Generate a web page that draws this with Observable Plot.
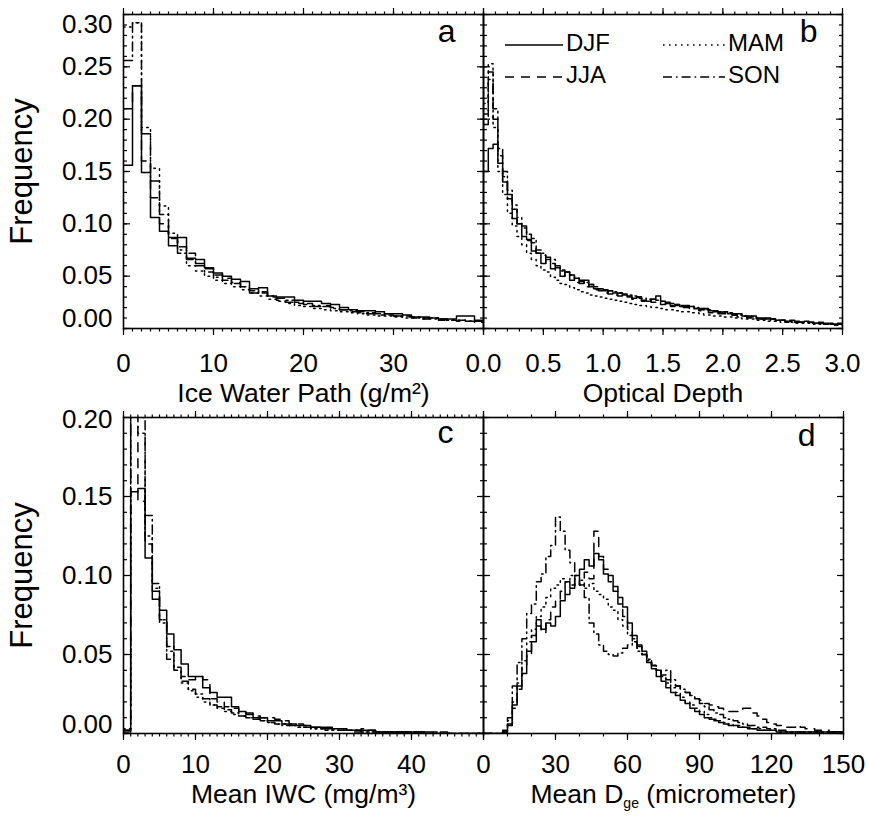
<!DOCTYPE html>
<html>
<head>
<meta charset="utf-8">
<script src="https://cdn.jsdelivr.net/npm/d3@7"></script>
<script src="https://cdn.jsdelivr.net/npm/@observablehq/plot@0.6"></script>
<style>
html, body { margin: 0; padding: 0; background: #fff; }
#chart { position: relative; width: 869px; height: 816px; overflow: hidden; background: #fff; }
#chart svg { position: absolute; left: 0; top: 0; }
</style>
</head>
<body>
<div id="chart"></div>
<script>
// ---------------- data ----------------
const seasons = ["DJF", "JJA", "MAM", "SON"];

// (a) Ice Water Path, bins of 1 g/m2 from 0 to 40
const iwpBin = 1;
const iwpDJF = [0.156,0.232,0.149,0.106,0.093,0.079,0.087,0.067,0.066,0.058,0.053,0.050,0.047,0.045,0.034,0.039,0.031,0.030,0.030,0.027,0.026,0.026,0.024,0.023,0.020,0.018,0.017,0.017,0.016,0.014,0.014,0.013,0.011,0.011,0.010,0.009,0.009,0.012,0.012,0.008];
const iwpJJA = [0.210,0.232,0.160,0.125,0.100,0.086,0.078,0.072,0.062,0.057,0.051,0.048,0.044,0.040,0.038,0.035,0.030,0.027,0.025,0.024,0.023,0.021,0.022,0.020,0.018,0.016,0.015,0.014,0.013,0.014,0.012,0.011,0.010,0.009,0.010,0.008,0.008,0.007,0.007,0.006];
const iwpMAM = [0.288,0.292,0.192,0.153,0.117,0.091,0.075,0.060,0.055,0.050,0.046,0.043,0.040,0.037,0.034,0.031,0.028,0.026,0.024,0.022,0.021,0.019,0.018,0.017,0.016,0.015,0.014,0.013,0.012,0.012,0.011,0.010,0.010,0.009,0.009,0.008,0.008,0.008,0.007,0.007];
const iwpSON = [0.256,0.292,0.186,0.141,0.109,0.087,0.072,0.066,0.060,0.054,0.049,0.046,0.043,0.040,0.036,0.034,0.031,0.029,0.027,0.025,0.024,0.022,0.021,0.019,0.018,0.017,0.016,0.015,0.014,0.013,0.012,0.012,0.011,0.010,0.010,0.009,0.008,0.008,0.007,0.007];

// (b) Optical depth, bins of 0.04 from 0 to 3
const tauBin = 0.04;
const tauDJF = [0.150,0.172,0.176,0.158,0.140,0.128,0.105,0.100,0.088,0.085,0.074,0.072,0.062,0.066,0.057,0.058,0.050,0.054,0.046,0.048,0.043,0.046,0.040,0.038,0.036,0.036,0.033,0.034,0.031,0.032,0.030,0.029,0.030,0.027,0.026,0.028,0.031,0.026,0.024,0.022,0.023,0.021,0.020,0.021,0.019,0.018,0.019,0.017,0.016,0.015,0.016,0.014,0.013,0.014,0.012,0.011,0.012,0.010,0.009,0.010,0.009,0.008,0.008,0.007,0.008,0.007,0.006,0.007,0.006,0.005,0.006,0.005,0.005,0.004,0.005];
const tauJJA = [0.205,0.238,0.200,0.165,0.145,0.124,0.114,0.100,0.096,0.084,0.082,0.072,0.070,0.062,0.062,0.056,0.056,0.049,0.051,0.044,0.045,0.040,0.042,0.037,0.038,0.034,0.036,0.032,0.034,0.031,0.031,0.028,0.029,0.026,0.028,0.025,0.026,0.023,0.024,0.021,0.022,0.020,0.021,0.018,0.019,0.017,0.018,0.015,0.016,0.014,0.014,0.013,0.013,0.011,0.012,0.010,0.011,0.009,0.009,0.008,0.009,0.007,0.008,0.006,0.007,0.006,0.006,0.005,0.006,0.004,0.005,0.004,0.004,0.003,0.004];
const tauMAM = [0.215,0.253,0.192,0.150,0.128,0.110,0.098,0.088,0.080,0.072,0.066,0.060,0.056,0.054,0.049,0.046,0.043,0.042,0.039,0.037,0.035,0.034,0.032,0.031,0.030,0.029,0.028,0.027,0.026,0.025,0.024,0.023,0.022,0.022,0.021,0.020,0.020,0.019,0.018,0.018,0.017,0.016,0.016,0.015,0.015,0.014,0.013,0.013,0.012,0.012,0.011,0.011,0.010,0.010,0.009,0.009,0.009,0.008,0.008,0.007,0.007,0.007,0.006,0.006,0.006,0.005,0.005,0.005,0.005,0.004,0.004,0.004,0.004,0.003,0.003];
const tauSON = [0.195,0.245,0.210,0.172,0.150,0.132,0.118,0.106,0.098,0.090,0.086,0.075,0.072,0.068,0.066,0.060,0.055,0.054,0.051,0.048,0.046,0.044,0.042,0.040,0.038,0.037,0.036,0.035,0.034,0.033,0.032,0.031,0.030,0.029,0.028,0.028,0.027,0.026,0.025,0.024,0.023,0.022,0.022,0.021,0.020,0.019,0.018,0.018,0.017,0.016,0.015,0.015,0.014,0.013,0.012,0.012,0.011,0.010,0.010,0.009,0.009,0.008,0.008,0.007,0.007,0.006,0.006,0.006,0.005,0.005,0.005,0.004,0.004,0.004,0.004];

// (c) Mean IWC, bins of 1 mg/m3 from 0 to 50
const iwcBin = 1;
const iwcDJF = [0.001,0.153,0.155,0.111,0.085,0.078,0.063,0.053,0.044,0.036,0.036,0.029,0.026,0.023,0.023,0.017,0.014,0.013,0.010,0.010,0.008,0.008,0.006,0.006,0.005,0.005,0.004,0.004,0.004,0.003,0.003,0.002,0.002,0.002,0.002,0.001,0.001,0.001,0.001,0.001,0.001,0.001,0.001,0.000,0.001,0.000,0.000,0.000,0.000,0.000];
const iwcJJA = [0.002,0.215,0.147,0.120,0.090,0.072,0.047,0.040,0.036,0.034,0.036,0.034,0.022,0.020,0.017,0.016,0.013,0.012,0.011,0.010,0.010,0.009,0.008,0.006,0.006,0.005,0.004,0.004,0.003,0.003,0.003,0.002,0.002,0.003,0.002,0.001,0.001,0.001,0.001,0.001,0.001,0.001,0.000,0.001,0.000,0.000,0.000,0.000,0.000,0.000];
const iwcMAM = [0.003,0.210,0.190,0.125,0.092,0.070,0.052,0.040,0.032,0.027,0.023,0.020,0.018,0.016,0.014,0.012,0.011,0.010,0.009,0.008,0.007,0.006,0.006,0.005,0.004,0.004,0.003,0.003,0.003,0.002,0.002,0.002,0.002,0.001,0.001,0.001,0.001,0.001,0.001,0.001,0.001,0.000,0.000,0.000,0.000,0.000,0.000,0.000,0.000,0.000];
const iwcSON = [0.002,0.205,0.200,0.138,0.095,0.072,0.055,0.042,0.033,0.028,0.025,0.022,0.018,0.017,0.015,0.013,0.011,0.010,0.009,0.008,0.007,0.006,0.005,0.005,0.004,0.004,0.003,0.003,0.002,0.002,0.002,0.002,0.001,0.001,0.001,0.001,0.001,0.001,0.001,0.001,0.000,0.000,0.000,0.000,0.000,0.000,0.000,0.000,0.000,0.000];

// (d) Mean Dge, bins of 2 micrometer from 0 to 150
const dgeBin = 2;
const dgeDJF = [0,0,0,0,0.001,0.005,0.018,0.030,0.038,0.052,0.058,0.072,0.066,0.070,0.068,0.074,0.084,0.096,0.092,0.100,0.104,0.110,0.106,0.114,0.110,0.101,0.100,0.093,0.086,0.080,0.070,0.062,0.056,0.052,0.045,0.041,0.036,0.033,0.029,0.026,0.024,0.021,0.019,0.016,0.014,0.012,0.010,0.009,0.008,0.007,0.006,0.005,0.005,0.004,0.004,0.003,0.003,0.002,0.002,0.002,0.002,0.001,0.001,0.001,0.001,0.001,0.001,0.001,0.001,0.001,0.001,0.001,0.001,0.001,0.001];
const dgeJJA = [0,0,0,0,0.001,0.006,0.016,0.028,0.042,0.050,0.062,0.068,0.064,0.072,0.080,0.084,0.090,0.088,0.094,0.098,0.094,0.102,0.098,0.128,0.112,0.104,0.096,0.090,0.082,0.074,0.066,0.060,0.055,0.050,0.046,0.043,0.040,0.036,0.034,0.031,0.030,0.028,0.026,0.024,0.022,0.021,0.019,0.018,0.017,0.016,0.015,0.014,0.014,0.015,0.016,0.016,0.013,0.011,0.009,0.007,0.006,0.005,0.005,0.004,0.004,0.005,0.004,0.003,0.003,0.002,0.002,0.002,0.001,0.001,0.001];
const dgeMAM = [0,0,0,0,0.001,0.008,0.020,0.032,0.046,0.058,0.066,0.074,0.080,0.086,0.092,0.094,0.098,0.096,0.100,0.094,0.097,0.092,0.095,0.090,0.088,0.085,0.080,0.078,0.072,0.068,0.062,0.058,0.054,0.050,0.047,0.043,0.040,0.036,0.032,0.029,0.026,0.023,0.020,0.018,0.016,0.014,0.012,0.010,0.009,0.008,0.007,0.006,0.005,0.005,0.004,0.004,0.003,0.003,0.002,0.002,0.002,0.001,0.001,0.001,0.001,0.001,0.001,0.001,0.001,0.001,0.001,0.001,0.001,0.001,0.001];
const dgeSON = [0,0,0,0,0.002,0.010,0.030,0.045,0.060,0.076,0.082,0.096,0.101,0.112,0.119,0.137,0.128,0.116,0.108,0.100,0.094,0.086,0.070,0.063,0.056,0.052,0.050,0.049,0.051,0.054,0.056,0.058,0.052,0.050,0.046,0.043,0.040,0.037,0.040,0.034,0.030,0.028,0.026,0.024,0.022,0.019,0.017,0.015,0.013,0.012,0.010,0.009,0.008,0.007,0.006,0.005,0.005,0.004,0.004,0.003,0.003,0.002,0.002,0.001,0.001,0.001,0.001,0.001,0.001,0.001,0.001,0.001,0.001,0.001,0.001];

// tick labels
const iwpTicks = [0, 10, 20, 30];
const tauTicks = [0, 0.5, 1.0, 1.5, 2.0, 2.5, 3.0];
const iwcTicks = [0, 10, 20, 30, 40];
const dgeTicks = [0, 30, 60, 90, 120, 150];
const freqTicksTop = [0, 0.05, 0.10, 0.15, 0.20, 0.25, 0.30];
const freqTicksBottom = [0, 0.05, 0.10, 0.15, 0.20];

const titles = {
  a: "Ice Water Path (g/m²)",
  b: "Optical Depth",
  c: "Mean IWC (mg/m³)",
  d: "Mean Dge (micrometer)"
};
const yTitle = "Frequency";

// ---------------- drawing ----------------
const W = 869, H = 816;
const FONT = "'Liberation Sans', Arial, Helvetica, sans-serif";
const dashes = {DJF: null, JJA: "9,7", MAM: "1.6,4.4", SON: "9,4,1.6,4"};

function histLine(values, width, season) {
  const pts = values.map((v, i) => ({x: i * width, y: v}));
  pts.push({x: values.length * width, y: values[values.length - 1]});
  const opts = {x: "x", y: "y", curve: "step-after", stroke: "black", strokeWidth: 1.5, clip: true};
  if (dashes[season]) opts.strokeDasharray = dashes[season];
  return Plot.line(pts, opts);
}

function panel(cfg) {
  const marks = [];
  cfg.series.forEach((vals, k) => marks.push(histLine(vals, cfg.bin, seasons[k])));
  marks.push(Plot.frame({stroke: "black", strokeWidth: 1.6}));
  const tk = {fill: "none", label: null, strokeWidth: 1.2};
  marks.push(
    Plot.axisX(cfg.xMajor, {...tk, anchor: "bottom", tickSize: 7}),
    Plot.axisX(cfg.xMinor, {...tk, anchor: "bottom", tickSize: 3.5}),
    Plot.axisX(cfg.xMajor, {...tk, anchor: "top", tickSize: 7}),
    Plot.axisX(cfg.xMinor, {...tk, anchor: "top", tickSize: 3.5}),
    Plot.axisY(cfg.yMajor, {...tk, anchor: "left", tickSize: -7}),
    Plot.axisY(cfg.yMinor, {...tk, anchor: "left", tickSize: -4}),
    Plot.axisY(cfg.yMajor, {...tk, anchor: "right", tickSize: -7}),
    Plot.axisY(cfg.yMinor, {...tk, anchor: "right", tickSize: -4})
  );
  marks.push(Plot.axisX(cfg.xLabels, {anchor: "bottom", tickSize: 0, tickPadding: cfg.xPad, tickFormat: cfg.xFormat, label: null, fontSize: 26}));
  if (cfg.yLabels) {
    const f = d3.format(".2f");
    const ys = cfg.yMajor;
    const top = ys[ys.length - 1];
    marks.push(
      Plot.axisY(ys.slice(1, -1), {anchor: "left", tickSize: 0, tickPadding: 11, tickFormat: f, label: null, fontSize: 26}),
      Plot.axisY([top], {anchor: "left", tickSize: 0, tickPadding: 11, tickFormat: f, label: null, fontSize: 26, dy: cfg.topDy}),
      Plot.axisY([0], {anchor: "left", tickSize: 0, tickPadding: 11, tickFormat: f, label: null, fontSize: 26, dy: cfg.zeroDy}),
      Plot.text([yTitle], {text: d => d, frameAnchor: "left", rotate: -90, dx: -101, fontSize: 31, textAnchor: "middle", lineAnchor: "middle"})
    );
  }
  marks.push(
    Plot.text([cfg.title], {text: d => d, frameAnchor: "bottom", dy: cfg.titleDy, lineAnchor: "top", textAnchor: "middle", fontSize: 26.5}),
    Plot.text([cfg.letter], {text: d => d, frameAnchor: "top-right", textAnchor: "end", lineAnchor: "top", dx: cfg.letterDx, dy: cfg.letterDy, fontSize: 32})
  );
  return Plot.plot({
    width: W, height: H,
    marginLeft: cfg.left, marginRight: W - cfg.right, marginTop: cfg.top, marginBottom: H - cfg.bottom,
    x: {domain: cfg.xDomain, label: null},
    y: {domain: cfg.yDomain, label: null},
    style: {background: "transparent", overflow: "visible", fontFamily: FONT, fontSize: "26px", color: "black"},
    marks
  });
}

const chart = document.getElementById("chart");
const yMinTop = d3.range(0, 0.3001, 0.01);
const yMinBot = d3.range(0, 0.2001, 0.01);

const pa = panel({
  series: [iwpDJF, iwpJJA, iwpMAM, iwpSON], bin: iwpBin,
  xDomain: [0, 40], yDomain: [0, 0.30],
  left: 123, right: 483, top: 14, bottom: 328,
  xMajor: d3.range(0, 40.01, 10), xMinor: d3.range(0, 40.01, 1), xLabels: iwpTicks, xFormat: d3.format("d"), xPad: 25,
  yMajor: freqTicksTop, yMinor: yMinTop, yLabels: true, topDy: 10, zeroDy: -10,
  title: titles.a, titleDy: 54.5, letter: "a", letterDx: -28, letterDy: 5
});
const pb = panel({
  series: [tauDJF, tauJJA, tauMAM, tauSON], bin: tauBin,
  xDomain: [0, 3], yDomain: [0, 0.30],
  left: 483, right: 842, top: 14, bottom: 328,
  xMajor: tauTicks, xMinor: d3.range(0, 3.001, 0.1), xLabels: tauTicks, xFormat: d3.format(".1f"), xPad: 25,
  yMajor: freqTicksTop, yMinor: yMinTop, yLabels: false,
  title: titles.b, titleDy: 54.5, letter: "b", letterDx: -25, letterDy: 5
});
const pc = panel({
  series: [iwcDJF, iwcJJA, iwcMAM, iwcSON], bin: iwcBin,
  xDomain: [0, 50], yDomain: [0, 0.20],
  left: 123, right: 483, top: 417, bottom: 733,
  xMajor: d3.range(0, 50.01, 10), xMinor: d3.range(0, 50.01, 1), xLabels: iwcTicks, xFormat: d3.format("d"), xPad: 21.5,
  yMajor: freqTicksBottom, yMinor: yMinBot, yLabels: true, topDy: 2, zeroDy: -9,
  title: titles.c, titleDy: 50.5, letter: "c", letterDx: -30, letterDy: 3
});
const pd = panel({
  series: [dgeDJF, dgeJJA, dgeMAM, dgeSON], bin: dgeBin,
  xDomain: [0, 150], yDomain: [0, 0.20],
  left: 483, right: 843, top: 417, bottom: 733,
  xMajor: dgeTicks, xMinor: d3.range(0, 150.01, 10), xLabels: dgeTicks, xFormat: d3.format("d"), xPad: 21.5,
  yMajor: freqTicksBottom, yMinor: yMinBot, yLabels: false,
  title: titles.d, titleDy: 50.5, letter: "d", letterDx: -28, letterDy: 6
});
[pa, pb, pc, pd].forEach(s => chart.appendChild(s));

// subscript "ge" in the Dge title
d3.select(pd).selectAll("text").filter(function () { return this.textContent === titles.d; }).each(function () {
  const t = d3.select(this);
  t.text(null);
  t.append("tspan").text("Mean D");
  t.append("tspan").attr("font-size", "14px").attr("dy", "5").text("ge");
  t.append("tspan").attr("dy", "-5").text(" (micrometer)");
});

// legend inside panel b
const legendItems = [
  {s: "DJF", x1: 505, x2: 563, y: 45},
  {s: "JJA", x1: 505, x2: 563, y: 77},
  {s: "MAM", x1: 663, x2: 725, y: 45},
  {s: "SON", x1: 663, x2: 725, y: 77}
];
const leg = d3.select(chart).append("svg").attr("width", W).attr("height", H)
  .style("overflow", "visible").style("font-family", FONT);
legendItems.forEach(it => {
  const ln = leg.append("line").attr("x1", it.x1).attr("x2", it.x2).attr("y1", it.y).attr("y2", it.y)
    .attr("stroke", "black").attr("stroke-width", 1.5);
  if (dashes[it.s]) ln.attr("stroke-dasharray", dashes[it.s]);
  leg.append("text").attr("x", it.x2 + 3).attr("y", it.y + 6).attr("font-size", 24).attr("fill", "black").text(it.s);
});
</script>
</body>
</html>
